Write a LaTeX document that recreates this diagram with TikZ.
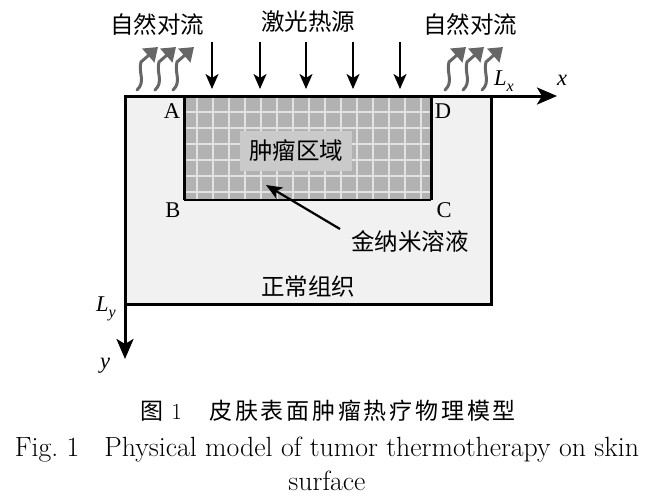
\documentclass[tikz,border=0pt]{standalone}
\usepackage{fontspec}
\newfontfamily\cjk{Noto Sans CJK SC}
\newfontfamily\cjkcap[LetterSpace=12]{Noto Sans CJK SC}
\newfontfamily\tnr{Liberation Serif}
\usetikzlibrary{arrows.meta}
\definecolor{skin}{HTML}{F1F1F1}
\definecolor{tumor}{HTML}{B2B2B2}
\definecolor{gridc}{HTML}{E2E2E2}
\definecolor{labbox}{HTML}{CACACA}
\definecolor{convc}{HTML}{666666}
\newcommand{\itsub}[2]{\textit{#1}\raisebox{-0.25em}{\fontsize{16}{18}\selectfont\textit{#2}}}
\begin{document}
\begin{tikzpicture}[x=1pt,y=-1pt,
  cn/.style={font=\cjk\fontsize{23.5}{26}\selectfont, inner sep=0pt},
  lat/.style={font=\tnr\fontsize{22.5}{26}\selectfont, inner sep=0pt},
  heat/.style={line width=2pt, -{Stealth[length=15pt,width=13pt,inset=4pt]}},
  conv/.style={line width=3pt, draw=convc, line cap=round, -{Triangle[length=13pt,width=18pt]}},
  axis/.style={line width=3pt, -{Stealth[length=20pt,width=17pt,inset=5pt]}}]
\useasboundingbox (0,0) rectangle (652,499);
% skin block
\draw[line width=3pt, fill=skin] (125,96) rectangle (491,304);
% tumor region
\fill[tumor] (184,96) rectangle (431,200);
\begin{scope}
\clip (184,96) rectangle (431,200);
\foreach \gx in {197,213,...,430} \draw[gridc, line width=2.2pt] (\gx,96) -- (\gx,200);
\foreach \gy in {112,128,...,199} \draw[gridc, line width=2.2pt] (184,\gy) -- (431,\gy);
\end{scope}
\draw[line width=3pt] (184,96) -- (184,200);
\draw[line width=3pt] (431,96) -- (431,200);
\draw[line width=1.6pt] (184,200) -- (431,200);
% axes
\coordinate (O) at (125,96);
\coordinate (xend) at (557,96);
\coordinate (yend) at (125,359);
\draw[axis] (O) -- (xend);
\draw[axis] (O) -- (yend);
\node[lat] (xl) at (562,80) {\textit{x}};
\node[lat] (yl) at (105,366) {\textit{y}};
\node[lat] (Lx) at (504,81) {\itsub{L}{x}};
\node[lat] (Ly) at (106,309) {\itsub{L}{y}};
% corner labels
\node[lat] (A) at (172,111) {A};
\node[lat] (D) at (443,111) {D};
\node[lat] (B) at (173,210) {B};
\node[lat] (C) at (444,210) {C};
% tumor label
\node[cn, fill=labbox, minimum width=112pt, minimum height=40pt] (tum) at (296,151) {肿瘤区域};
% gold nano arrow
\node[cn] (gold) at (410,241) {金纳米溶液};
\coordinate (gtail) at (340,229);
\coordinate (gtip) at (266,185);
\draw[line width=2.2pt, -{Stealth[length=16pt,width=13pt,inset=4pt]}] (gtail) -- (gtip);
\node[cn] (norm) at (308,287) {正常组织};
% heat source
\node[cn] (laser) at (308,22) {激光热源};
\foreach \hx [count=\i] in {212,260,306,353,400} {
  \coordinate (h\i a) at (\hx,42);
  \coordinate (h\i b) at (\hx,89);
  \draw[heat] (h\i a) -- (h\i b);
}
% natural convection
\node[cn] (convL) at (157,24) {自然对流};
\node[cn] (convR) at (470,24) {自然对流};
\foreach \cx [count=\i] in {137,155,173,445,463,482} {
  \coordinate (c\i a) at (\cx,90);
  \coordinate (c\i b) at (\cx+21,47);
  \draw[conv] (c\i a) .. controls (\cx+9,82) and (\cx+1,72) .. (\cx+4,62) -- (c\i b);
}
% captions
\node[inner sep=0pt, font=\fontsize{23}{26}\selectfont] (cap1) at (328,411) {{\cjk 图}\hspace{0.35em}1\hspace{1.2em}{\cjkcap 皮肤表面肿瘤热疗物理模型}};
\node[inner sep=0pt, font=\fontsize{27.8}{32}\selectfont] (cap2) at (327,450) {Fig.~1\hspace{0.9em}Physical model of tumor thermotherapy on skin};
\node[inner sep=0pt, font=\fontsize{27.8}{32}\selectfont] (cap3) at (327,481) {surface};
\end{tikzpicture}
\end{document}
